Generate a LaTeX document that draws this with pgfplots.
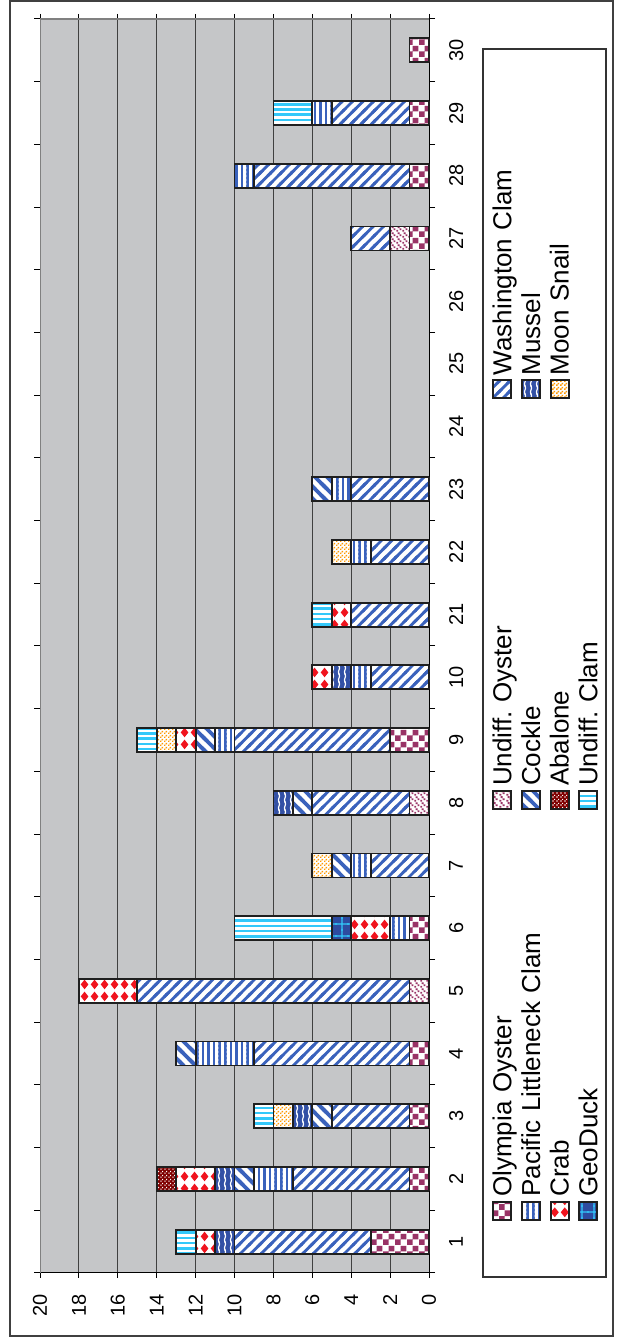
\documentclass[border=0pt]{standalone}
\usepackage{pgfplots}
\pgfplotsset{compat=1.18}
\usepackage{pgfplotstable}
\usetikzlibrary{patterns}
\usepackage{fontspec}
\setmainfont{Liberation Sans}
\frenchspacing

\definecolor{olyc}{RGB}{153,51,102}
\definecolor{washc}{RGB}{58,98,188}
\definecolor{mussbg}{RGB}{50,80,165}
\definecolor{crabc}{RGB}{240,20,30}
\definecolor{abalc}{RGB}{128,0,0}
\definecolor{moonc}{RGB}{255,153,0}
\definecolor{geobg}{RGB}{45,75,160}
\definecolor{uclamc}{RGB}{51,200,250}
\definecolor{plotbg}{RGB}{197,198,200}

\pgfdeclarepatternformonly{oly}{\pgfqpoint{0pt}{0pt}}{\pgfqpoint{5.8pt}{5.8pt}}{\pgfqpoint{5.8pt}{5.8pt}}{%
  \pgfpathrectangle{\pgfqpoint{0pt}{0pt}}{\pgfqpoint{2.9pt}{2.9pt}}%
  \pgfpathrectangle{\pgfqpoint{2.9pt}{2.9pt}}{\pgfqpoint{2.9pt}{2.9pt}}%
  \pgfusepath{fill}}
\pgfdeclarepatternformonly{uoy}{\pgfqpoint{0pt}{0pt}}{\pgfqpoint{3.2pt}{3.2pt}}{\pgfqpoint{3.2pt}{3.2pt}}{%
  \pgfpathrectangle{\pgfqpoint{0.2pt}{0.2pt}}{\pgfqpoint{1pt}{1pt}}%
  \pgfpathrectangle{\pgfqpoint{1.9pt}{1pt}}{\pgfqpoint{1pt}{1pt}}%
  \pgfpathrectangle{\pgfqpoint{0.9pt}{2.1pt}}{\pgfqpoint{1pt}{1pt}}%
  \pgfusepath{fill}}
\pgfdeclarepatternformonly{wash}{\pgfqpoint{-0.6pt}{-0.6pt}}{\pgfqpoint{5.8pt}{5.8pt}}{\pgfqpoint{5.2pt}{5.2pt}}{%
  \pgfsetlinewidth{1.4pt}%
  \pgfpathmoveto{\pgfqpoint{-2pt}{-2pt}}\pgfpathlineto{\pgfqpoint{8pt}{8pt}}%
  \pgfpathmoveto{\pgfqpoint{-2pt}{3.2pt}}\pgfpathlineto{\pgfqpoint{4pt}{9.2pt}}%
  \pgfpathmoveto{\pgfqpoint{3.2pt}{-2pt}}\pgfpathlineto{\pgfqpoint{9.2pt}{4pt}}%
  \pgfusepath{stroke}}
\pgfdeclarepatternformonly{cockle}{\pgfqpoint{-0.6pt}{-0.6pt}}{\pgfqpoint{6.6pt}{6.6pt}}{\pgfqpoint{6pt}{6pt}}{%
  \pgfsetlinewidth{1.9pt}%
  \pgfpathmoveto{\pgfqpoint{-2pt}{2pt}}\pgfpathlineto{\pgfqpoint{2pt}{-2pt}}%
  \pgfpathmoveto{\pgfqpoint{-2pt}{8pt}}\pgfpathlineto{\pgfqpoint{8pt}{-2pt}}%
  \pgfpathmoveto{\pgfqpoint{4pt}{8pt}}\pgfpathlineto{\pgfqpoint{8pt}{4pt}}%
  \pgfusepath{stroke}}
\pgfdeclarepatternformonly{pac}{\pgfqpoint{0pt}{-0.5pt}}{\pgfqpoint{1.3pt}{2.5pt}}{\pgfqpoint{2.8pt}{2pt}}{%
  \pgfpathrectangle{\pgfqpoint{0pt}{-0.5pt}}{\pgfqpoint{1.3pt}{3pt}}%
  \pgfusepath{fill}}
\pgfdeclarepatternformonly{uclam}{\pgfqpoint{-0.5pt}{0pt}}{\pgfqpoint{2.5pt}{1.3pt}}{\pgfqpoint{2pt}{2.6pt}}{%
  \pgfpathrectangle{\pgfqpoint{-0.5pt}{0pt}}{\pgfqpoint{3pt}{1.3pt}}%
  \pgfusepath{fill}}
\pgfdeclarepatternformonly{muss}{\pgfqpoint{0pt}{-0.4pt}}{\pgfqpoint{3pt}{4.4pt}}{\pgfqpoint{3pt}{4pt}}{%
  \pgfsetlinewidth{0.6pt}%
  \pgfpathmoveto{\pgfqpoint{1.5pt}{-4pt}}%
  \pgfpathcurveto{\pgfqpoint{0.5pt}{-2.67pt}}{\pgfqpoint{2.5pt}{-1.33pt}}{\pgfqpoint{1.5pt}{0pt}}%
  \pgfpathcurveto{\pgfqpoint{0.5pt}{1.33pt}}{\pgfqpoint{2.5pt}{2.67pt}}{\pgfqpoint{1.5pt}{4pt}}%
  \pgfpathcurveto{\pgfqpoint{0.5pt}{5.33pt}}{\pgfqpoint{2.5pt}{6.67pt}}{\pgfqpoint{1.5pt}{8pt}}%
  \pgfusepath{stroke}}
\pgfdeclarepatternformonly{crab}{\pgfqpoint{0pt}{0pt}}{\pgfqpoint{5pt}{6pt}}{\pgfqpoint{5pt}{6pt}}{%
  \pgfpathmoveto{\pgfqpoint{2.5pt}{0.4pt}}\pgfpathlineto{\pgfqpoint{4.6pt}{3pt}}%
  \pgfpathlineto{\pgfqpoint{2.5pt}{5.6pt}}\pgfpathlineto{\pgfqpoint{0.4pt}{3pt}}\pgfpathclose%
  \pgfusepath{fill}}
\pgfdeclarepatternformonly{abal}{\pgfqpoint{0pt}{0pt}}{\pgfqpoint{2pt}{2pt}}{\pgfqpoint{2pt}{2pt}}{%
  \pgfpathrectangle{\pgfqpoint{0.2pt}{0.2pt}}{\pgfqpoint{0.7pt}{0.7pt}}%
  \pgfpathrectangle{\pgfqpoint{1.2pt}{1.2pt}}{\pgfqpoint{0.7pt}{0.7pt}}%
  \pgfusepath{fill}}
\pgfdeclarepatternformonly{moon}{\pgfqpoint{0pt}{0pt}}{\pgfqpoint{2pt}{2pt}}{\pgfqpoint{2pt}{2pt}}{%
  \pgfpathrectangle{\pgfqpoint{0pt}{0pt}}{\pgfqpoint{0.9pt}{0.9pt}}%
  \pgfpathrectangle{\pgfqpoint{1pt}{1pt}}{\pgfqpoint{0.9pt}{0.9pt}}%
  \pgfusepath{fill}}
\pgfdeclarepatternformonly{geo}{\pgfqpoint{-0.5pt}{-0.5pt}}{\pgfqpoint{6.5pt}{6.5pt}}{\pgfqpoint{6pt}{6pt}}{%
  \pgfpathrectangle{\pgfqpoint{-0.5pt}{2.7pt}}{\pgfqpoint{7pt}{0.6pt}}%
  \pgfpathrectangle{\pgfqpoint{2.7pt}{-0.5pt}}{\pgfqpoint{0.6pt}{7pt}}%
  \pgfusepath{fill}}

\pgfplotstableread{
x oly uoy wash pac cock muss crab abal moon geo ucl
0  3 0 7  0 0 1 1 0 0 0 1
1  1 0 6  2 1 1 2 1 0 0 0
2  1 0 4  0 1 1 0 0 1 0 1
3  1 0 8  3 1 0 0 0 0 0 0
4  0 1 14 0 0 0 3 0 0 0 0
5  1 0 0  1 0 0 2 0 0 1 5
6  0 0 3  1 1 0 0 0 1 0 0
7  0 1 5  0 1 1 0 0 0 0 0
8  2 0 8  1 1 0 1 0 1 0 1
9  0 0 3  1 0 1 1 0 0 0 0
10 0 0 4  0 0 0 1 0 0 0 1
11 0 0 3  1 0 0 0 0 1 0 0
12 0 0 4  1 1 0 0 0 0 0 0
13 0 0 0  0 0 0 0 0 0 0 0
14 0 0 0  0 0 0 0 0 0 0 0
15 0 0 0  0 0 0 0 0 0 0 0
16 1 1 2  0 0 0 0 0 0 0 0
17 1 0 8  1 0 0 0 0 0 0 0
18 1 0 4  1 0 0 0 0 0 0 2
19 1 0 0  0 0 0 0 0 0 0 0
}\data

\pgfplotsset{mybar/.style={draw=black!88, line width=0.9pt,
  legend image code/.code={\draw[##1] (0pt,-3.5pt) rectangle (9pt,5.5pt);}}}

\begin{document}
\begin{tikzpicture}[rotate=90, transform shape]
\path[use as bounding box] (0pt,0pt) rectangle (669pt,311pt);
\draw[black!75, line width=0.75pt] (1pt,4.5pt) rectangle (668.5pt,306pt);
\begin{axis}[
  at={(32.5pt,96.5pt)}, anchor=south west,
  scale only axis, width=627pt, height=194.5pt,
  ybar stacked, bar width=12pt,
  xmin=-0.5, xmax=19.5, ymin=0, ymax=20,
  xtick={0,...,19},
  xticklabels={1,2,3,4,5,6,7,8,9,10,21,22,23,24,25,26,27,28,29,30},
  minor xtick={-0.5,0.5,...,19.5},
  ytick={0,2,...,20},
  major x tick style={draw=none},
  minor x tick style={draw=black, line width=0.5pt},
  y tick style={draw=black, line width=0.5pt},
  tick align=outside, major tick length=2.5pt, minor tick length=3pt,
  ymajorgrids, grid style={black!75, line width=0.5pt},
  axis background/.style={fill=plotbg},
  axis line style={black, line width=0.5pt},
  tick label style={font=\fontsize{10}{12}\selectfont},
  xticklabel style={yshift=-4pt},
  yticklabel style={xshift=-4.5pt},
  /pgf/number format/assume math mode=true,
  legend columns=3, legend cell align=left,
  legend style={draw=none, fill=none, at={(axis description cs:0.0415,-0.1558)}, anchor=north west,
    inner sep=0pt, row sep=0pt, font=\fontsize{13}{15}\selectfont,
    nodes={text width=168pt, text height=9.5pt, text depth=2.5pt, inner ysep=1.165pt, inner xsep=2pt, align=left},
    /tikz/every even column/.append style={column sep=23.5pt}},
]
\addplot[mybar, fill=white, postaction={pattern=oly, pattern color=olyc}] table[x=x, y=oly] {\data};
\addlegendentry{Olympia Oyster}
\addplot[mybar, fill=white, postaction={pattern=uoy, pattern color=olyc}] table[x=x, y=uoy] {\data};
\addlegendentry{Undiff. Oyster}
\addplot[mybar, fill=white, postaction={pattern=wash, pattern color=washc}] table[x=x, y=wash] {\data};
\addlegendentry{Washington Clam}
\addplot[mybar, fill=white, postaction={pattern=pac, pattern color=washc}] table[x=x, y=pac] {\data};
\addlegendentry{Pacific Littleneck Clam}
\addplot[mybar, fill=white, postaction={pattern=cockle, pattern color=washc}] table[x=x, y=cock] {\data};
\addlegendentry{Cockle}
\addplot[mybar, fill=mussbg, postaction={pattern=muss, pattern color=white}] table[x=x, y=muss] {\data};
\addlegendentry{Mussel}
\addplot[mybar, fill=white, postaction={pattern=crab, pattern color=crabc}] table[x=x, y=crab] {\data};
\addlegendentry{Crab}
\addplot[mybar, fill=abalc, postaction={pattern=abal, pattern color=white}] table[x=x, y=abal] {\data};
\addlegendentry{Abalone}
\addplot[mybar, fill=white, postaction={pattern=moon, pattern color=moonc}] table[x=x, y=moon] {\data};
\addlegendentry{Moon Snail}
\addplot[mybar, fill=geobg, postaction={pattern=geo, pattern color=uclamc}] table[x=x, y=geo] {\data};
\addlegendentry{GeoDuck}
\addplot[mybar, fill=white, postaction={pattern=uclam, pattern color=uclamc}] table[x=x, y=ucl] {\data};
\addlegendentry{Undiff. Clam}
\draw[black!50, line width=1pt] (rel axis cs:0,1) -- (rel axis cs:1,1) -- (rel axis cs:1,0);
\end{axis}
\draw[black!80, line width=0.75pt] (30.5pt,8pt) rectangle (644.5pt,69.5pt);
\end{tikzpicture}
\end{document}
